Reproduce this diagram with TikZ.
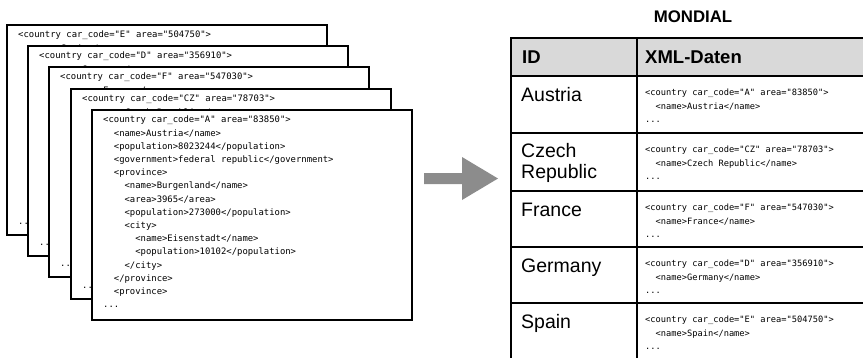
\documentclass[tikz,border=0pt]{standalone}
\usepackage{fontspec}
\newfontfamily\codefont{DejaVu Sans Mono}
\newfontfamily\labelfont{Liberation Sans}
\usetikzlibrary{calc}
\definecolor{hdrgray}{HTML}{D9D9D9}
\definecolor{arrgray}{HTML}{8C8C8C}
\newcommand\indA{\phantom{xx}}
\newcommand\indB{\phantom{xxxx}}
\newcommand\indC{\phantom{xxxxxx}}
\begin{document}
\begin{tikzpicture}[x=1pt,y=-1pt,
  page/.style={draw, line width=2pt, fill=white, minimum width=320pt, minimum height=210pt, anchor=north west, inner sep=0pt},
  code/.style={font={\codefont\fontsize{8.9}{13.2}\selectfont}, align=left, anchor=north west, inner sep=0pt},
  dots/.style={font={\codefont\fontsize{8.9}{13.2}\selectfont}, anchor=base west, inner sep=0pt},
  cellcode/.style={font={\codefont\fontsize{8.7}{13.2}\selectfont}, align=left, anchor=north west, inner sep=0pt},
  hdr/.style={font={\labelfont\bfseries\fontsize{18.5}{21}\selectfont}, anchor=base west, inner sep=0pt},
  lbl/.style={font={\labelfont\fontsize{19.5}{21}\selectfont}, align=left, anchor=base west, inner sep=0pt},
  grid/.style={line width=2pt}]
\useasboundingbox (0,0) rectangle (863,357);

% stacked pages
\node[page] (pE) at (6,24) {};
\node[code] (tE) at ([shift={(12,7)}]pE.north west) {<country car\_code="E" area="504750">\\\indA<name>Spain</name>};
\node[dots] (dE) at ([shift={(12,-12)}]pE.south west) {...};

\node[page] (pD) at (27,45) {};
\node[code] (tD) at ([shift={(12,7)}]pD.north west) {<country car\_code="D" area="356910">\\\indA<name>Germany</name>};
\node[dots] (dD) at ([shift={(12,-12)}]pD.south west) {...};

\node[page] (pF) at (48,66) {};
\node[code] (tF) at ([shift={(12,7)}]pF.north west) {<country car\_code="F" area="547030">\\\indA<name>France</name>};
\node[dots] (dF) at ([shift={(12,-12)}]pF.south west) {...};

\node[page] (pC) at (70,88) {};
\node[code] (tC) at ([shift={(12,7)}]pC.north west) {<country car\_code="CZ" area="78703">\\\indA<name>Czech Republic</name>};
\node[dots] (dC) at ([shift={(12,-12)}]pC.south west) {...};

\node[page] (pA) at (91,109) {};
\node[code] (tA) at ([shift={(12,7)}]pA.north west) {<country car\_code="A" area="83850">\\
\indA<name>Austria</name>\\
\indA<population>8023244</population>\\
\indA<government>federal republic</government>\\
\indA<province>\\
\indB<name>Burgenland</name>\\
\indB<area>3965</area>\\
\indB<population>273000</population>\\
\indB<city>\\
\indC<name>Eisenstadt</name>\\
\indC<population>10102</population>\\
\indB</city>\\
\indA</province>\\
\indA<province>\\
...};

% arrow
\fill[arrgray] (424,173) -- (462,173) -- (462,157) -- (498,178.5) -- (462,200) -- (462,184) -- (424,184) -- cycle;

% table
\node[font={\labelfont\bfseries\fontsize{16.8}{20}\selectfont}, anchor=base, inner sep=0pt] (title) at (693,22) {MONDIAL};
\fill[hdrgray] (511,38) rectangle (863,76);
\foreach \yy in {38,76,133,191,247,303} \draw[grid] (510,\yy) -- (864,\yy);
\draw[grid] (511,37) -- (511,358);
\draw[grid] (637,37) -- (637,358);

\node[hdr] (hID) at (522,63) {ID};
\node[hdr] (hXML) at (645,63) {XML-Daten};

\node[lbl] (lA) at (521,101) {Austria};
\node[cellcode] (cA) at (645,89) {<country car\_code="A" area="83850">\\\indA<name>Austria</name>\\...};

\node[lbl] (lC) at (521,178) {Czech\\Republic};
\node[cellcode] (cC) at (645,146) {<country car\_code="CZ" area="78703">\\\indA<name>Czech Republic</name>\\...};

\node[lbl] (lF) at (521,216) {France};
\node[cellcode] (cF) at (645,204) {<country car\_code="F" area="547030">\\\indA<name>France</name>\\...};

\node[lbl] (lG) at (521,272) {Germany};
\node[cellcode] (cG) at (645,260) {<country car\_code="D" area="356910">\\\indA<name>Germany</name>\\...};

\node[lbl] (lS) at (521,328) {Spain};
\node[cellcode] (cS) at (645,316) {<country car\_code="E" area="504750">\\\indA<name>Spain</name>\\...};
\end{tikzpicture}
\end{document}
